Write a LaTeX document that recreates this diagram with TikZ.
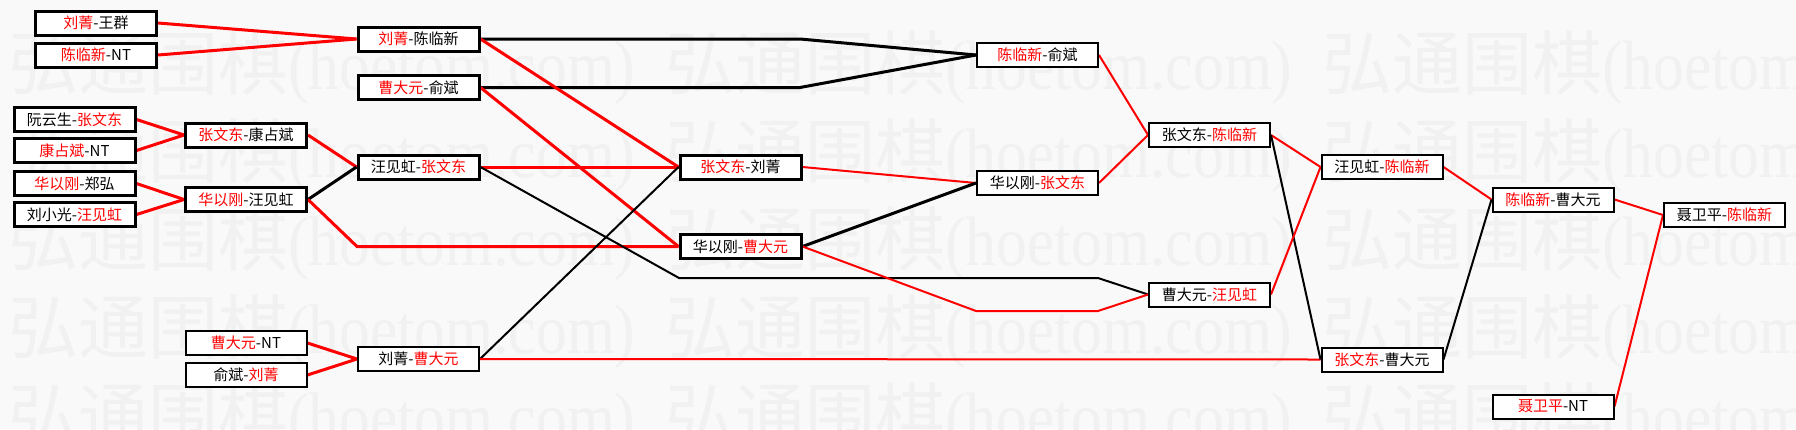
\documentclass[tikz,border=0pt]{standalone}
\usepackage{fontspec}
\usepackage{graphicx}
\setmainfont{Noto Sans CJK SC}
\newfontfamily\wmlat{Liberation Serif}
\definecolor{bgc}{RGB}{249,249,249}
\definecolor{wmc}{RGB}{241,241,241}
\definecolor{winc}{RGB}{255,0,0}
\newcommand{\win}[1]{\textcolor{winc}{#1}}
\pgfdeclarelayer{wmlayer}
\pgfdeclarelayer{linelayer}
\pgfsetlayers{wmlayer,linelayer,main}
\tikzset{
  box/.style={draw=black, fill=white, minimum width=121pt, minimum height=24pt, inner sep=0pt,
    font=\fontsize{15}{18}\selectfont},
  bigbox/.style={box, line width=3pt},
  smallbox/.style={box, line width=2pt},
  thickred/.style={draw=winc, line width=3pt},
  thinred/.style={draw=winc, line width=2pt},
  thickblk/.style={draw=black, line width=3pt},
  thinblk/.style={draw=black, line width=2pt},
  wm/.style={text=wmc, inner sep=0pt, anchor=west, font=\fontsize{70}{80}\selectfont}
}
\begin{document}
\begin{tikzpicture}[x=1pt,y=-1pt]
\useasboundingbox (0,0) rectangle (1796,429);
\begin{pgfonlayer}{wmlayer}
\fill[bgc] (0,0) rectangle (1796,429);
\begin{scope}
\clip (0,0) rectangle (1796,429);
\foreach \yy in {68,156,244,332,420}{
  \foreach \xx in {8,665,1322}{
    \node[wm] at (\xx,\yy) {弘通围棋{\wmlat\scalebox{0.88}[1]{(hoetom.com)}}};
  }
}
\end{scope}
\end{pgfonlayer}
% boxes
\node[bigbox] (a1) at (96,23) {\win{刘菁}-王群};
\node[bigbox] (a2) at (96,55) {\win{陈临新}-NT};
\node[bigbox] (a3) at (74.5,119.5) {阮云生-\win{张文东}};
\node[bigbox] (a4) at (74.5,150.5) {\win{康占斌}-NT};
\node[bigbox] (a5) at (74.5,183.5) {\win{华以刚}-郑弘};
\node[bigbox] (a6) at (74.5,214.5) {刘小光-\win{汪见虹}};
\node[bigbox] (b1) at (246,135) {\win{张文东}-康占斌};
\node[bigbox] (b2) at (246,199.5) {\win{华以刚}-汪见虹};
\node[smallbox] (b3) at (246,343) {\win{曹大元}-NT};
\node[smallbox] (b4) at (246,375) {俞斌-\win{刘菁}};
\node[bigbox] (c1) at (418.5,39) {\win{刘菁}-陈临新};
\node[bigbox] (c2) at (418.5,87.5) {\win{曹大元}-俞斌};
\node[bigbox] (c3) at (418.5,167) {汪见虹-\win{张文东}};
\node[smallbox] (c4) at (418.5,359) {刘菁-\win{曹大元}};
\node[bigbox] (d1) at (740.5,167) {\win{张文东}-刘菁};
\node[bigbox] (d2) at (740.5,246.5) {华以刚-\win{曹大元}};
\node[smallbox] (e1) at (1037.5,55) {\win{陈临新}-俞斌};
\node[smallbox] (e2) at (1037.5,183) {华以刚-\win{张文东}};
\node[smallbox] (f1) at (1209.5,135) {张文东-\win{陈临新}};
\node[smallbox] (f2) at (1209.5,294.5) {曹大元-\win{汪见虹}};
\node[smallbox] (g1) at (1382,167) {汪见虹-\win{陈临新}};
\node[smallbox] (g2) at (1382,359.5) {\win{张文东}-曹大元};
\node[smallbox] (h1) at (1553,199.5) {\win{陈临新}-曹大元};
\node[smallbox] (h2) at (1553,406.5) {\win{聂卫平}-NT};
\node[smallbox] (i1) at (1724.5,215) {聂卫平-\win{陈临新}};
% connectors
\begin{pgfonlayer}{linelayer}
\draw[thickred] (a1.east) -- (c1.west);
\draw[thickred] (a2.east) -- (c1.west);
\draw[thickred] (a3.east) -- (b1.west);
\draw[thickred] (a4.east) -- (b1.west);
\draw[thickred] (a5.east) -- (b2.west);
\draw[thickred] (a6.east) -- (b2.west);
\draw[thickred] (b1.east) -- (c3.west);
\draw[thickblk] (b2.east) -- (c3.west);
\draw[thickred] (b2.east) -- (357,246.5) -- (d2.west);
\draw[thickred] (b3.east) -- (c4.west);
\draw[thickred] (b4.east) -- (c4.west);
\draw[thickblk] (c1.east) -- (800,39) -- (e1.west);
\draw[thickblk] (c2.east) -- (800,87.5) -- (e1.west);
\draw[thickred] (c1.east) -- (d1.west);
\draw[thickred] (c2.east) -- (d2.west);
\draw[thickred] (c3.east) -- (d1.west);
\draw[thinblk] (c3.east) -- (679,278) -- (1098,278) -- (f2.west);
\draw[thinblk] (c4.east) -- (d1.west);
\draw[thinred] (c4.east) -- (g2.west);
\draw[thinred] (d1.east) -- (e2.west);
\draw[thickblk] (d2.east) -- (e2.west);
\draw[thinred] (d2.east) -- (976,311) -- (1098,311) -- (f2.west);
\draw[thinred] (e1.east) -- (f1.west);
\draw[thinred] (e2.east) -- (f1.west);
\draw[thinred] (f1.east) -- (g1.west);
\draw[thinblk] (f1.east) -- (g2.west);
\draw[thinred] (f2.east) -- (g1.west);
\draw[thinred] (g1.east) -- (h1.west);
\draw[thinblk] (g2.east) -- (h1.west);
\draw[thinred] (h1.east) -- (i1.west);
\draw[thinred] (h2.east) -- (i1.west);
\end{pgfonlayer}
\end{tikzpicture}
\end{document}
